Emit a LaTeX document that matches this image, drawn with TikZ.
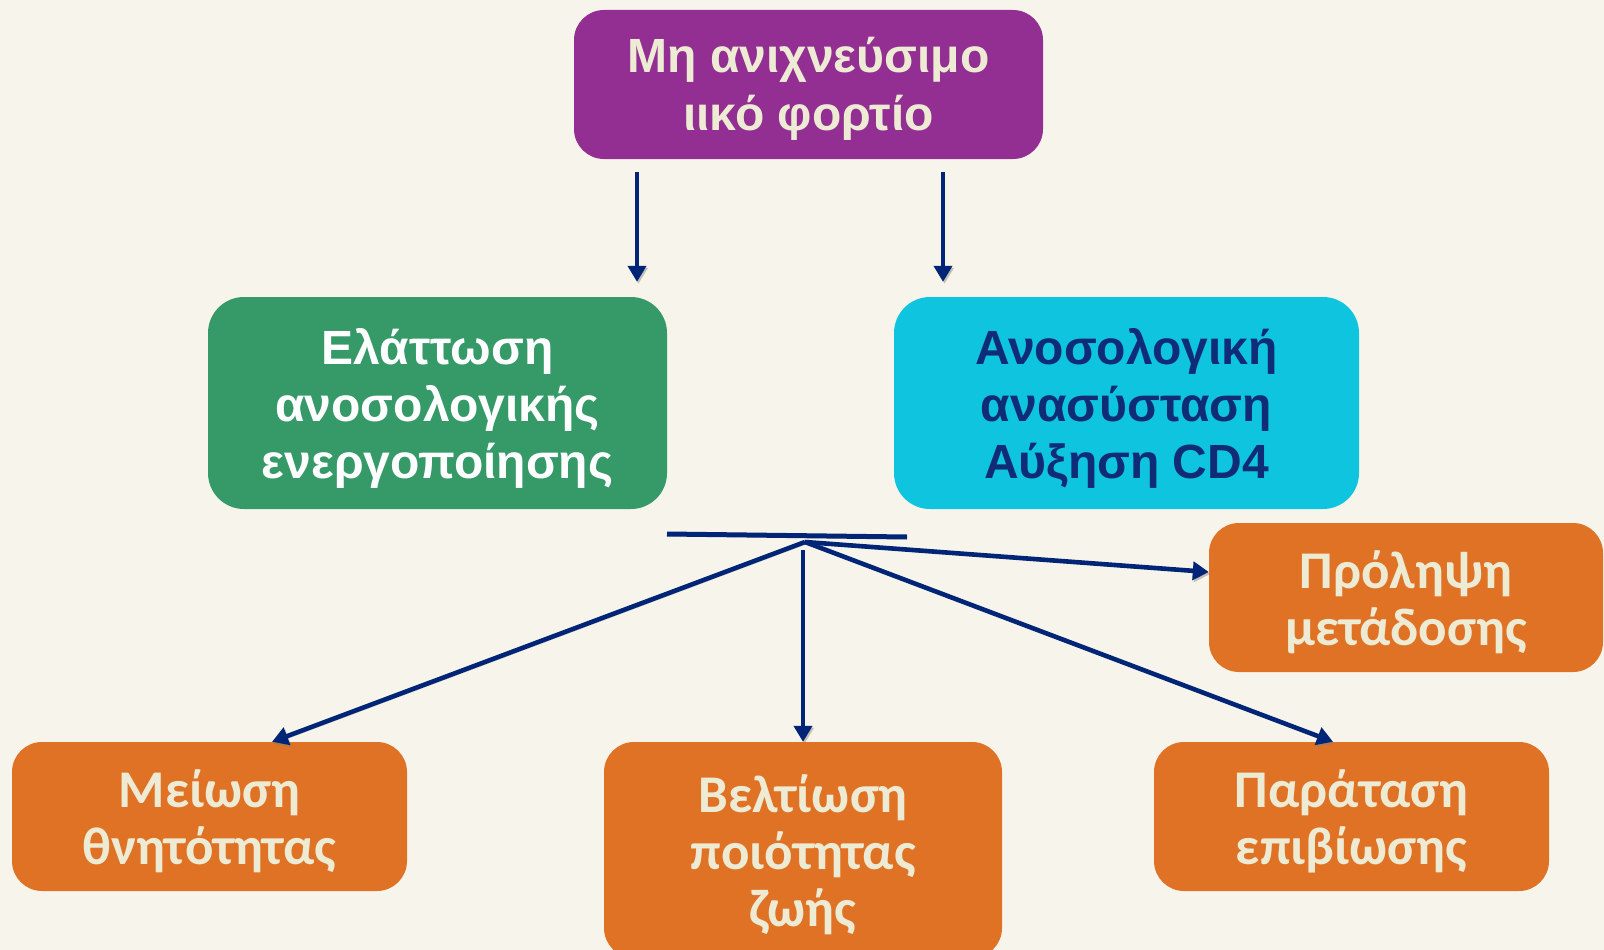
\documentclass[tikz,border=0pt]{standalone}
\usepackage{fontspec}
\setmainfont{Liberation Sans}
\newfontfamily\calib{Carlito}
\usetikzlibrary{arrows.meta}
\definecolor{bg}{HTML}{F7F5EB}
\definecolor{vpurple}{HTML}{932E93}
\definecolor{vgreen}{HTML}{359A68}
\definecolor{vcyan}{HTML}{0EC4DE}
\definecolor{vorange}{HTML}{E07225}
\definecolor{vcream}{HTML}{EEEBD5}
\definecolor{vnavytext}{HTML}{102C77}
\definecolor{vnavy}{HTML}{002576}
\begin{document}
\begin{tikzpicture}[x=1pt,y=-1pt,
  box/.style={rounded corners=30pt, inner sep=0pt},
  txt/.style={inner sep=0pt, align=center},
  topfont/.style={font=\bfseries\fontsize{48}{58}\selectfont},
  midfont/.style={font=\bfseries\fontsize{48}{57}\selectfont},
  lowfont/.style={font=\calib\bfseries\fontsize{53}{57}\selectfont},
  lineshadow/.style={preaction={draw=black!50,opacity=0.45,transform canvas={shift={(1.5pt,-2pt)}}}},
  conn/.style={draw=vnavy, line width=4.6pt, -{Triangle[length=16pt,width=18pt]}, lineshadow},
]
\useasboundingbox (0,0) rectangle (1604,950);
\begin{scope}
\clip (0,0) rectangle (1604,950);
\fill[bg] (0,0) rectangle (1604,950);

\node[box, fill=vpurple, minimum width=469pt, minimum height=149pt] (vl) at (808.5,84.5) {};
\node[txt, text=vcream, topfont] (vlt) at ([yshift=-4pt]vl.center) {Μη ανιχνεύσιμο\\ιικό φορτίο};

\node[box, rounded corners=36pt, fill=vgreen, minimum width=459pt, minimum height=212pt] (act) at (437.5,403) {};
\node[txt, text=white, midfont] (actt) at ([yshift=-5pt]act.center) {Ελάττωση\\ανοσολογικής\\ενεργοποίησης};

\node[box, rounded corners=36pt, fill=vcyan, minimum width=465pt, minimum height=212pt] (rec) at (1126.5,403) {};
\node[txt, text=vnavytext, midfont] (rect) at ([yshift=-5pt]rec.center) {Ανοσολογική\\ανασύσταση\\Αύξηση CD4};

\node[box, fill=vorange, minimum width=394pt, minimum height=149pt] (prol) at (1406,597.5) {};
\node[txt, text=vcream, lowfont] (prolt) at ([yshift=-5pt]prol.center) {Πρόληψη\\μετάδοσης};

\node[box, fill=vorange, minimum width=395pt, minimum height=149pt] (mort) at (209.5,816.5) {};
\node[txt, text=vcream, lowfont] (mortt) at ([yshift=-5pt]mort.center) {Μείωση\\θνητότητας};

\node[box, fill=vorange, minimum width=398pt, minimum height=216pt] (qol) at (803,850) {};
\node[txt, text=vcream, lowfont] (qolt) at ([yshift=-5pt]qol.center) {Βελτίωση\\ποιότητας\\ζωής};

\node[box, fill=vorange, minimum width=395pt, minimum height=149pt] (surv) at (1351.5,816.5) {};
\node[txt, text=vcream, lowfont] (survt) at ([yshift=-5pt]surv.center) {Παράταση\\επιβίωσης};

\coordinate (aL) at (637,0);
\coordinate (aR) at (943,0);
\draw[conn, shorten <=13pt, shorten >=15pt] (vl.south -| aL) -- (act.north -| aL);
\draw[conn, shorten <=13pt, shorten >=15pt] (vl.south -| aR) -- (rec.north -| aR);

\coordinate (barL) at (667,534);
\coordinate (barR) at (907,537);
\coordinate (J) at (805,542);
\coordinate (Jv) at (803,550);
\draw[vnavy, line width=5pt, lineshadow] (barL) -- (barR);

\draw[conn] (J) -- ([xshift=62.5pt]mort.north);
\draw[conn] (Jv) -- (qol.north -| Jv);
\draw[conn] (J) -- ([xshift=-18.5pt]surv.north);
\draw[conn] (J) -- ([yshift=25.5pt]prol.west);
\end{scope}
\end{tikzpicture}
\end{document}
